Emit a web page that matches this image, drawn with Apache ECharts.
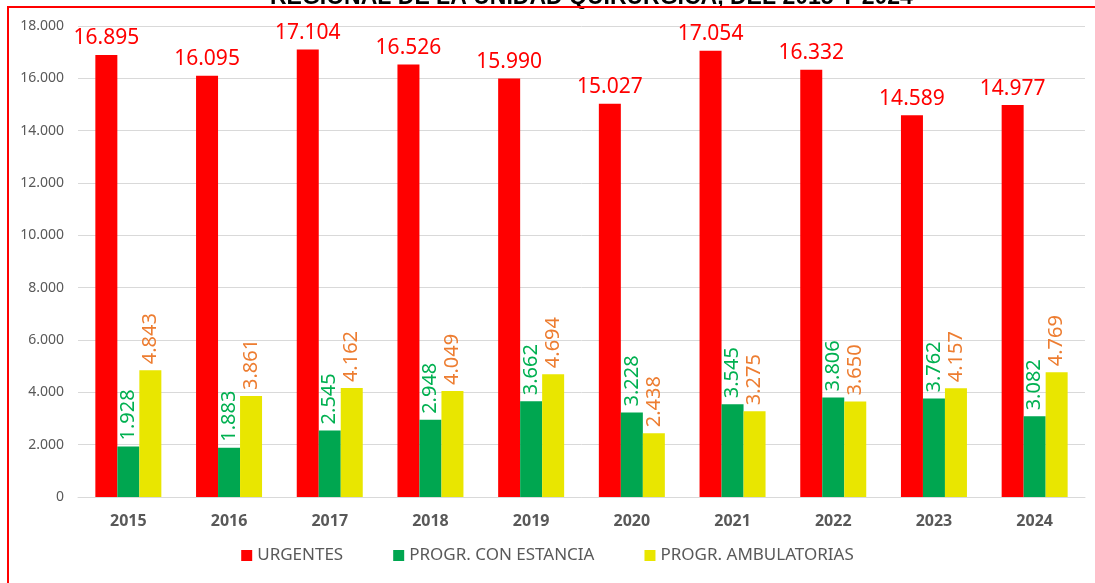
<!DOCTYPE html>
<html>
<head>
<meta charset="utf-8">
<script src="https://cdn.jsdelivr.net/npm/echarts@6/dist/echarts.min.js"></script>
<style>
html, body { margin: 0; padding: 0; background: #fff; }
#chart { width: 1095px; height: 583px; }
</style>
</head>
<body>
<div id="chart"></div>
<script>
// data
var years = ['2015', '2016', '2017', '2018', '2019', '2020', '2021', '2022', '2023', '2024'];
var urgentes = [16895, 16095, 17104, 16526, 15990, 15027, 17054, 16332, 14589, 14977];
var conEstancia = [1928, 1883, 2545, 2948, 3662, 3228, 3545, 3806, 3762, 3082];
var ambulatorias = [4843, 3861, 4162, 4049, 4694, 2438, 3275, 3650, 4157, 4769];
var yTicks = [0, 2000, 4000, 6000, 8000, 10000, 12000, 14000, 16000, 18000];

function fmt(v) {
	// 16895 -> 16.895
	return String(v).replace(/\B(?=(\d{3})+(?!\d))/g, '.');
}

var chart = echarts.init(document.getElementById('chart'));
chart.setOption({
	animation: false,
	textStyle: { fontFamily: 'Noto Sans' },
	title: {
		text: 'REGIONAL DE LA UNIDAD QUIRÚRGICA, DEL 2015 Y 2024',
		left: 265,
		top: -19,
		textStyle: { fontSize: 23, fontWeight: 'bold', color: '#000', fontFamily: 'Liberation Sans' }
	},
	graphic: [{
		type: 'rect',
		shape: { x: 8, y: 7, width: 1100, height: 600 },
		style: { fill: 'none', stroke: '#FF0000', lineWidth: 2 },
		z: 100
	}],
	legend: {
		bottom: 14,
		left: 'center',
		itemWidth: 11,
		itemHeight: 11,
		itemGap: 50,
		icon: 'rect',
		textStyle: { color: '#595959', fontSize: 17 },
		data: ['URGENTES', 'PROGR. CON ESTANCIA', 'PROGR. AMBULATORIAS']
	},
	grid: { left: 78, right: 10, top: 26, bottom: 86 },
	xAxis: {
		type: 'category',
		data: years,
		axisTick: { show: false },
		axisLine: { lineStyle: { color: '#D9D9D9', width: 1 } },
		axisLabel: { color: '#595959', fontSize: 16, fontWeight: 'bold', margin: 16 }
	},
	yAxis: {
		type: 'value',
		min: yTicks[0],
		max: yTicks[yTicks.length - 1],
		interval: 2000,
		axisLine: { show: false },
		axisTick: { show: false },
		splitLine: { lineStyle: { color: '#D9D9D9', width: 1 } },
		axisLabel: { color: '#595959', fontSize: 14, margin: 14, formatter: fmt }
	},
	series: [
		{
			name: 'URGENTES',
			type: 'bar',
			data: urgentes,
			barWidth: 22,
			barGap: '0%',
			itemStyle: { color: '#FF0000' },
			label: {
				show: true,
				position: 'top',
				distance: 6,
				color: '#FF0000',
				fontSize: 21,
				formatter: function(p) { return fmt(p.value); }
			}
		},
		{
			name: 'PROGR. CON ESTANCIA',
			type: 'bar',
			data: conEstancia,
			barWidth: 22,
			barGap: '0%',
			itemStyle: { color: '#00A650' },
			label: {
				show: true,
				position: 'top',
				rotate: 90,
				align: 'left',
				verticalAlign: 'middle',
				distance: 6,
				color: '#00B050',
				fontSize: 20,
				formatter: function(p) { return fmt(p.value); }
			}
		},
		{
			name: 'PROGR. AMBULATORIAS',
			type: 'bar',
			data: ambulatorias,
			barWidth: 22,
			barGap: '0%',
			itemStyle: { color: '#E9E600' },
			label: {
				show: true,
				position: 'top',
				rotate: 90,
				align: 'left',
				verticalAlign: 'middle',
				distance: 6,
				color: '#ED7D31',
				fontSize: 20,
				formatter: function(p) { return fmt(p.value); }
			}
		}
	]
});
</script>
</body>
</html>
